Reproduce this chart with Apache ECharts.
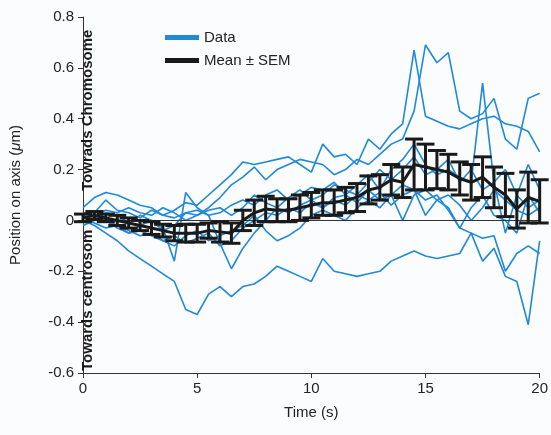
<!DOCTYPE html>
<html>
<head>
<meta charset="utf-8">
<script src="https://cdn.jsdelivr.net/npm/echarts@6/dist/echarts.min.js"></script>
<style>
html, body { margin: 0; padding: 0; background: #fbfcfe; }
#main { width: 551px; height: 435px; }
</style>
</head>
<body>
<div id="main"></div>
<script>
// sampling times (s)
var times = [0,0.5,1,1.5,2,2.5,3,3.5,4,4.5,5,5.5,6,6.5,7,7.5,8,8.5,9,9.5,10,
             10.5,11,11.5,12,12.5,13,13.5,14,14.5,15,15.5,16,16.5,17,17.5,18,18.5,19,19.5,20];

// individual traces (um)
var trace1 = [0.0,-0.02,-0.05,-0.08,-0.12,-0.15,-0.18,-0.21,-0.24,-0.35,-0.37,-0.29,-0.26,-0.30,-0.26,-0.25,-0.22,-0.18,-0.20,-0.22,-0.24,
              -0.15,-0.20,-0.21,-0.22,-0.21,-0.20,-0.16,-0.14,-0.12,-0.14,-0.15,-0.14,-0.13,-0.05,-0.07,-0.06,-0.20,-0.13,-0.10,-0.13];
var trace2 = [0.03,0.02,0.0,-0.03,-0.05,-0.02,0.0,-0.03,-0.16,0.11,0.05,0.02,-0.09,-0.19,-0.11,-0.05,0.0,0.05,0.03,0.06,0.08,
              0.05,0.09,0.10,0.07,0.12,0.08,0.10,0.14,0.12,0.02,0.08,0.10,0.06,0.0,0.05,0.12,0.08,0.04,0.02,0.05];
var trace3 = [0.05,0.09,0.11,0.10,0.08,0.06,0.05,0.02,0.04,0.07,0.06,0.10,0.14,0.18,0.23,0.22,0.23,0.24,0.25,0.22,0.19,
              0.30,0.25,0.26,0.22,0.32,0.28,0.34,0.38,0.67,0.41,0.39,0.37,0.36,0.38,0.40,0.41,0.38,0.37,0.35,0.27];
var trace4 = [-0.02,0.0,0.03,0.02,-0.01,0.02,0.0,-0.04,-0.02,0.03,0.02,0.05,0.09,0.14,0.17,0.21,0.16,0.20,0.22,0.24,0.23,
              0.22,0.18,0.20,0.24,0.22,0.26,0.30,0.32,0.43,0.69,0.62,0.66,0.43,0.40,0.42,0.48,0.32,0.28,0.48,0.50];
var trace5 = [0.02,0.03,0.08,0.04,0.03,0.01,0.04,0.02,0.01,0.03,0.04,0.02,0.03,0.06,0.08,0.06,0.10,0.12,0.08,0.10,0.13,
              0.12,0.15,0.10,0.14,0.18,0.12,0.20,0.24,0.30,0.22,0.18,0.20,0.17,0.15,0.54,0.15,-0.05,0.10,0.22,0.12];
var trace6 = [0.0,-0.01,-0.03,-0.02,-0.05,-0.04,-0.06,-0.08,-0.10,-0.06,-0.04,-0.08,-0.06,-0.04,-0.02,0.02,-0.04,-0.08,-0.06,-0.03,0.02,
              0.04,0.02,0.0,0.05,0.08,0.05,0.10,0.0,0.10,0.12,0.08,0.05,-0.03,0.05,0.10,0.02,0.0,-0.05,0.10,0.03];
var trace7 = [0.03,0.02,0.04,0.03,0.05,0.03,0.02,0.05,0.03,0.0,0.02,0.04,0.05,0.02,0.05,0.10,0.07,0.05,0.09,0.12,0.08,
              0.10,0.14,0.12,0.10,0.15,0.20,0.16,0.20,0.25,0.18,0.20,0.24,0.15,0.20,0.12,0.15,0.20,0.10,0.05,0.08];
var trace8 = [-0.01,0.01,0.0,-0.02,-0.04,-0.06,-0.05,-0.08,-0.06,-0.09,-0.07,-0.05,-0.10,-0.08,-0.03,0.0,0.03,0.02,0.05,0.03,0.07,
              0.05,0.08,0.06,0.10,0.08,0.11,0.06,0.10,0.12,0.08,0.10,0.04,-0.03,-0.05,-0.16,-0.11,-0.22,-0.24,-0.41,-0.08];
var traces = [trace1, trace2, trace3, trace4, trace5, trace6, trace7, trace8];

// mean and SEM
var meanVals = [0.01,0.02,0.01,0.0,-0.01,-0.02,-0.03,-0.04,-0.05,-0.05,-0.05,-0.04,-0.045,-0.05,0.0,0.03,0.045,0.04,0.04,0.05,0.06,
                0.07,0.07,0.08,0.09,0.12,0.13,0.16,0.15,0.22,0.21,0.20,0.19,0.165,0.15,0.17,0.13,0.10,0.045,0.09,0.075];
var semVals = [0.015,0.015,0.015,0.02,0.02,0.02,0.025,0.025,0.03,0.035,0.035,0.03,0.04,0.04,0.04,0.05,0.05,0.045,0.045,0.05,0.05,
               0.05,0.05,0.05,0.055,0.055,0.05,0.06,0.06,0.10,0.09,0.075,0.07,0.065,0.07,0.08,0.08,0.085,0.075,0.10,0.085];

var fontName = '"Liberation Sans", Arial, sans-serif';

var chartObj = {
    myChart : echarts.init(document.getElementById('main')),
    option : null,
    init : function(){
        var that = this;
        that.render();
    },
    render : function(){
        var that = this;
        var series = [];
        traces.forEach(function(tr, k){
            series.push({
                name : 'Data',
                type : 'line',
                data : times.map(function(t, i){ return [t, tr[i]]; }),
                showSymbol : false,
                silent : true,
                z : 2,
                itemStyle : { color : '#2089d8' },
                lineStyle : { color : '#2089d8', width : 1.6 },
                markLine : k === 0 ? {
                    silent : true,
                    symbol : 'none',
                    label : { show : false },
                    lineStyle : { color : '#333', width : 1, type : 'solid' },
                    data : [{ yAxis : 0 }]
                } : undefined
            });
        });
        series.push({
            name : 'Mean ± SEM',
            type : 'custom',
            z : 5,
            silent : true,
            itemStyle : { color : '#1a1a1a' },
            data : times.map(function(t, i){ return [t, meanVals[i], semVals[i]]; }),
            renderItem : function(params, api){
                var x = api.value(0), m = api.value(1), s = api.value(2);
                var top = api.coord([x, m + s]);
                var bot = api.coord([x, m - s]);
                var hw = 9;
                var st = { stroke : '#1a1a1a', lineWidth : 3 };
                return {
                    type : 'group',
                    children : [
                        { type : 'line', shape : { x1 : top[0], y1 : top[1], x2 : bot[0], y2 : bot[1] }, style : st },
                        { type : 'line', shape : { x1 : top[0] - hw, y1 : top[1], x2 : top[0] + hw, y2 : top[1] }, style : st },
                        { type : 'line', shape : { x1 : bot[0] - hw, y1 : bot[1], x2 : bot[0] + hw, y2 : bot[1] }, style : st }
                    ]
                };
            }
        });
        series.push({
            name : 'Mean ± SEM',
            type : 'line',
            z : 6,
            silent : true,
            showSymbol : false,
            data : times.map(function(t, i){ return [t, meanVals[i]]; }),
            itemStyle : { color : '#1a1a1a' },
            lineStyle : { color : '#1a1a1a', width : 3 }
        });
        that.drawChart(series);
    },
    drawChart : function(series){
        var that = this;
        that.option = {
            backgroundColor : '#fbfcfe',
            animation : false,
            textStyle : { fontFamily : fontName },
            grid : { left : 78, right : 10, top : 17, bottom : 62, containLabel : false },
            legend : {
                data : ['Data', 'Mean ± SEM'],
                orient : 'vertical',
                left : 160,
                top : 25,
                icon : 'rect',
                itemWidth : 34,
                itemHeight : 5,
                itemGap : 8,
                selectedMode : false,
                textStyle : { fontSize : 15, color : '#222', fontFamily : fontName }
            },
            xAxis : {
                type : 'value',
                min : 0,
                max : 20,
                interval : 5,
                name : 'Time (s)',
                nameLocation : 'middle',
                nameGap : 32,
                nameTextStyle : { fontSize : 15, color : '#222', fontFamily : fontName },
                axisLine : { onZero : false, lineStyle : { color : '#3a3330', width : 1 } },
                axisTick : { length : 5, lineStyle : { color : '#3a3330' } },
                axisLabel : { fontSize : 15, color : '#222', margin : 8, fontFamily : fontName },
                splitLine : { show : false }
            },
            yAxis : {
                type : 'value',
                min : -0.6,
                max : 0.8,
                interval : 0.2,
                name : '{a|Position on axis (}{b|μ}{a|m)}',
                nameLocation : 'middle',
                nameGap : 60,
                nameTextStyle : {
                    rich : {
                        a : { fontSize : 15, color : '#222', fontFamily : fontName },
                        b : { fontSize : 15, color : '#222', fontStyle : 'italic', fontFamily : fontName }
                    }
                },
                axisLine : { onZero : false, lineStyle : { color : '#3a3330', width : 1 } },
                axisTick : { length : 5, lineStyle : { color : '#3a3330' } },
                axisLabel : {
                    fontSize : 15, color : '#222', margin : 9, fontFamily : fontName,
                    formatter : function(v){ return v === 0 ? '0' : (+v.toFixed(1)).toString(); }
                },
                splitLine : { show : false }
            },
            graphic : [
                {
                    type : 'text', x : 88, y : 191, rotation : Math.PI / 2, z : 10,
                    style : { text : 'Towrads Chromosome', fontSize : 15, fontWeight : 'bold', fontFamily : fontName,
                              fill : '#1a1a1a', textAlign : 'left', verticalAlign : 'middle', textVerticalAlign : 'middle' }
                },
                {
                    type : 'text', x : 88, y : 371, rotation : Math.PI / 2, z : 10,
                    style : { text : 'Towards centrosom', fontSize : 15, fontWeight : 'bold', fontFamily : fontName,
                              fill : '#1a1a1a', textAlign : 'left', verticalAlign : 'middle', textVerticalAlign : 'middle' }
                }
            ],
            series : series
        };
        that.myChart.setOption(that.option);
    }
};
chartObj.init();
</script>
</body>
</html>
